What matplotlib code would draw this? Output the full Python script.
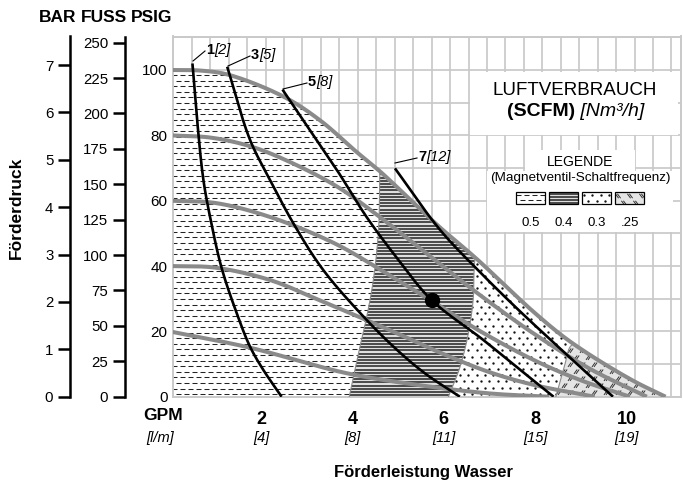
import numpy as np
import matplotlib
matplotlib.use('Agg')
import matplotlib.pyplot as plt
from matplotlib.patches import Polygon, Rectangle
from matplotlib.collections import LineCollection
from matplotlib.offsetbox import TextArea, HPacker, AnnotationBbox

FONT = ['Liberation Sans', 'DejaVu Sans']
plt.rcParams['font.family'] = FONT

# ---------------- data ----------------
# pump curves at air inlet pressure (psig): x = GPM, y = discharge psig
p100_x = [0, 0.7, 1.3, 2.5, 3.3, 4.1, 4.6, 5.9, 6.7, 8.0, 8.8, 10.1, 10.85]
p100_y = [100, 99.8, 98.5, 91.8, 84.5, 74.8, 69, 52, 42.4, 25.5, 16.5, 5.2, 0]
p80_x = [0, 0.9, 1.8, 2.7, 3.7, 4.6, 5.7, 6.8, 8.0, 9.2, 10.44]
p80_y = [80, 79.3, 76.5, 71.4, 64, 55, 43, 31, 19, 8.5, 0]
p60_x = [0, 1.0, 2.2, 3.6, 4.6, 5.7, 6.8, 8.0, 9.0, 10.07]
p60_y = [60, 59.3, 55, 47, 39, 29.6, 20, 11, 5, 0]
p40_x = [0, 1.0, 2.2, 3.2, 4.3, 5.04, 6.0, 7.0, 8.0, 9.3]
p40_y = [40, 39.5, 35.7, 30, 23.5, 19, 13, 7.5, 3.5, 0]
p20_x = [0, 1.76, 3.87, 5.48, 7.0, 8.3]
p20_y = [20, 15, 7.2, 3.5, 1, 0]

# air consumption lines (SCFM)
a1_x = [0.5, 0.6, 0.74, 0.9, 1.14, 1.47, 1.76, 2.05, 2.45]
a1_y = [102, 85, 66.3, 54, 39.3, 25.5, 15.3, 8.2, 0]
a3_x = [1.26, 1.76, 2.2, 2.71, 3.36, 4.31, 5.0, 5.6, 6.35]
a3_y = [101, 78.6, 66.3, 53, 38.8, 23.5, 14, 7, 0]
a5_x = [2.47, 3.07, 3.66, 4.31, 5.0, 5.73, 6.86, 7.6, 8.4]
a5_y = [94, 81.6, 69.4, 55, 42, 29.6, 17.4, 9, 0]
a7_x = [4.93, 5.92, 6.8, 7.6, 8.6, 9.7]
a7_y = [69.9, 51, 38, 27, 14, 0]
air_bold = ['1', '3', '5', '7']
air_ital = ['[2]', '[5]', '[8]', '[12]']

# solenoid frequency zone boundaries (x = GPM, y = psig)
b1_x = [3.93, 4.16, 4.32, 4.46, 4.57, 4.6]
b1_y = [0, 15, 25, 36, 51, 69]
b2_x = [6.1, 6.35, 6.53, 6.64, 6.66, 6.68]
b2_y = [0, 9, 19, 29.6, 38, 42.4]
b3_x = [8.45, 8.55, 8.65, 8.75, 8.83]
b3_y = [0, 5, 10, 15, 16.5]
legend_labels = ['0.5', '0.4', '0.3', '.25']

op_x, op_y = [5.73], [29.6]

gpm_ticks = [2, 4, 6, 8, 10]
lpm_labels = ['[4]', '[8]', '[11]', '[15]', '[19]']
psi_ticks = [0, 20, 40, 60, 80, 100]
bar_ticks = list(range(0, 8))
ft_ticks = list(range(0, 251, 25))

# ---------------- layout ----------------
W, H = 683, 482
X0PX, XS = 169.6, 45.71
Y0PX, YS = 396.7, 3.267
LEFT_PX, RIGHT_PX, TOP_PX = 173.3, 681.0, 36.5
GRID_C = '#c9c9c9'
CURVE_C = '#8a8a8a'


def smooth(xs, ys, n=30, kx=XS, ky=YS, alpha=0.5):
    pts = np.column_stack([np.asarray(xs, float) * kx, np.asarray(ys, float) * ky])
    P = np.vstack([2 * pts[0] - pts[1], pts, 2 * pts[-1] - pts[-2]])
    out = []
    for i in range(1, len(P) - 2):
        p0, p1, p2, p3 = P[i - 1], P[i], P[i + 1], P[i + 2]
        t0 = 0.0
        t1 = t0 + max(np.linalg.norm(p1 - p0), 1e-6) ** alpha
        t2 = t1 + max(np.linalg.norm(p2 - p1), 1e-6) ** alpha
        t3 = t2 + max(np.linalg.norm(p3 - p2), 1e-6) ** alpha
        t = np.linspace(t1, t2, n, endpoint=False)[:, None]
        A1 = (t1 - t) / (t1 - t0) * p0 + (t - t0) / (t1 - t0) * p1
        A2 = (t2 - t) / (t2 - t1) * p1 + (t - t1) / (t2 - t1) * p2
        A3 = (t3 - t) / (t3 - t2) * p2 + (t - t2) / (t3 - t2) * p3
        B1 = (t2 - t) / (t2 - t0) * A1 + (t - t0) / (t2 - t0) * A2
        B2 = (t3 - t) / (t3 - t1) * A2 + (t - t1) / (t3 - t1) * A3
        out.append((t2 - t) / (t2 - t1) * B1 + (t - t1) / (t2 - t1) * B2)
    out.append(pts[-1:])
    S = np.vstack(out)
    return np.column_stack([S[:, 0] / kx, S[:, 1] / ky])


fig = plt.figure(figsize=(W / 100, H / 100), dpi=100)
ax = fig.add_axes([LEFT_PX / W, 1 - Y0PX / H, (RIGHT_PX - LEFT_PX) / W, (Y0PX - TOP_PX) / H])
xmin, xmax = (LEFT_PX - X0PX) / XS, (RIGHT_PX - X0PX) / XS
ymax = (Y0PX - TOP_PX) / YS
ax.set_xlim(xmin, xmax)
ax.set_ylim(0, ymax)
for s in ax.spines.values():
    s.set_color(GRID_C)
    s.set_linewidth(1.4)

# grid
gx = np.arange(xmin, xmax, 18.45 / XS)
for v in gx[1:]:
    ax.axvline(v, color=GRID_C, lw=1.25, zorder=0)
for v in range(10, int(ymax) + 1, 10):
    ax.axhline(v, color=GRID_C, lw=1.25, zorder=0)

# ticks
ax.set_yticks(psi_ticks)
ax.set_yticklabels([str(v) for v in psi_ticks], fontsize=11)
ax.set_xticks(gpm_ticks)
ax.set_xticklabels([str(v) for v in gpm_ticks], fontsize=13, fontweight='bold')
ax.tick_params(axis='both', length=0)
ax.tick_params(axis='y', pad=4)
ax.tick_params(axis='x', pad=10)
for v, lab in zip(gpm_ticks, lpm_labels):
    ax.text(v, -(438 - Y0PX) / (Y0PX - TOP_PX), lab, transform=ax.get_xaxis_transform(),
            ha='center', va='center', fontsize=10.5, style='italic')

# ------------- zones -------------
C = smooth(p100_x, p100_y)


def ycurve(x):
    return np.interp(x, C[:, 0], C[:, 1])


def curve_between(xa, xb):
    m = (C[:, 0] > xa) & (C[:, 0] < xb)
    return C[m]


def boundary(bx, by):
    by = list(by)
    by[-1] = float(ycurve(bx[-1]))
    return smooth(bx, by, 16)


B1 = boundary(b1_x, b1_y)
B2 = boundary(b2_x, b2_y)
B3 = boundary(b3_x, b3_y)
xend = p100_x[-1]

P1 = np.vstack([[[xmin - 0.2, 0], [xmin - 0.2, 100]], curve_between(xmin - 0.3, b1_x[-1]), B1[::-1]])
P2 = np.vstack([B1, curve_between(b1_x[-1], b2_x[-1]), B2[::-1]])
P3 = np.vstack([B2, curve_between(b2_x[-1], b3_x[-1]), B3[::-1]])
P4 = np.vstack([B3, curve_between(b3_x[-1], xend), [[xend, 0]]])


def tex_dashes(axx, clip, x0, x1, y0, y1, sx, sy, lw=0.75):
    segs = []
    row = 0
    y = y0 + 2.5 * sy
    while y < y1:
        off = (row % 2) * 4 * sx
        x = x0 + off
        while x < x1:
            segs.append([(x, y), (x + 5 * sx, y)])
            x += 8 * sx
        y += 5.6 * sy
        row += 1
    lc = LineCollection(segs, colors='#222222', linewidths=lw, zorder=2)
    axx.add_collection(lc)
    lc.set_clip_path(clip)


def tex_hlines(axx, clip, x0, x1, y0, y1, sx, sy, lw=1.2):
    segs = []
    y = y0 + 1.5 * sy
    while y < y1:
        segs.append([(x0, y), (x1, y)])
        y += 3.2 * sy
    lc = LineCollection(segs, colors='#303030', linewidths=lw, zorder=2)
    axx.add_collection(lc)
    lc.set_clip_path(clip)


def tex_dots(axx, clip, x0, x1, y0, y1, sx, sy, ms=1.7):
    xs, ys = [], []
    row = 0
    y = y0 + 3 * sy
    while y < y1:
        x = x0 + 2 * sx + (row % 2) * 4.2 * sx
        while x < x1:
            xs.append(x)
            ys.append(y)
            x += 8.4 * sx
        y += 6.2 * sy
        row += 1
    ln, = axx.plot(xs, ys, ls='none', marker='o', ms=ms, mfc='#111111', mec='none', zorder=2)
    ln.set_clip_path(clip)


def tex_marks(axx, clip, x0, x1, y0, y1, sx, sy, lw=0.7):
    segs = []
    row = 0
    y = y0 + 4 * sy
    dx, dy = 1.6, 2.2
    while y < y1:
        x = x0 + 3 * sx + (row % 2) * 6 * sx
        while x < x1:
            for o in (-1.0, 1.0):
                segs.append([(x - dx * sx + o * sx, y - dy * sy),
                             (x + dx * sx + o * sx, y + dy * sy)])
            x += 12 * sx
        y += 7 * sy
        row += 1
    lc = LineCollection(segs, colors='#333333', linewidths=lw, zorder=2)
    axx.add_collection(lc)
    lc.set_clip_path(clip)


sx, sy = 1 / XS, 1 / YS
zones = [(P1, 'white', tex_dashes), (P2, '#dedede', tex_hlines),
         (P3, 'white', tex_dots), (P4, '#e4e4e4', tex_marks)]
for P, fc, tex in zones:
    patch = Polygon(P, closed=True, facecolor=fc, edgecolor='none', zorder=1)
    ax.add_patch(patch)
    tex(ax, patch, xmin - 0.3, xmax, 0, ymax, sx, sy)
for B in (B1, B2, B3):
    ax.plot(B[:, 0], B[:, 1], color='#8c8c8c', lw=0.8, zorder=3)

# pump curves
for px_, py_ in [(p20_x, p20_y), (p40_x, p40_y), (p60_x, p60_y), (p80_x, p80_y), (p100_x, p100_y)]:
    S = smooth(px_, py_)
    ax.plot(S[:, 0], S[:, 1], color=CURVE_C, lw=2.9, zorder=4, solid_capstyle='butt')

# air lines
for axx_, ayy_ in [(a1_x, a1_y), (a3_x, a3_y), (a5_x, a5_y), (a7_x, a7_y)]:
    S = smooth(axx_, ayy_)
    ax.plot(S[:, 0], S[:, 1], color='black', lw=1.9, zorder=5, solid_capstyle='butt')

ax.plot(op_x, op_y, 'o', color='black', ms=10, zorder=6)

# ---------------- left pressure scales ----------------
yb = 1 - Y0PX / H
hh = (Y0PX - TOP_PX) / H
for xpx, conv, ticks in [(70, 1 / 14.5038, bar_ticks), (125, 2.3067, ft_ticks)]:
    a2 = fig.add_axes([xpx / W, yb, 0.0005, hh])
    a2.set_ylim(0, ymax * conv)
    a2.set_xticks([])
    for k in ('top', 'right', 'bottom'):
        a2.spines[k].set_visible(False)
    a2.spines['left'].set_linewidth(1.8)
    a2.patch.set_alpha(0)
    a2.set_yticks(ticks)
    a2.set_yticklabels([str(t) for t in ticks], fontsize=10.8)
    a2.tick_params(axis='y', length=9, width=1.8, pad=3)

# ---------------- overlay (pixel coordinates) ----------------
ov = fig.add_axes([0, 0, 1, 1], zorder=10)
ov.set_xlim(0, W)
ov.set_ylim(H, 0)
ov.axis('off')
ov.patch.set_alpha(0)

for x, t in [(58, 'BAR'), (104, 'FUSS'), (152, 'PSIG')]:
    ov.text(x, 17, t, ha='center', va='center', fontsize=12.5, fontweight='bold')
ov.text(16, 208, 'Förderdruck', rotation=90, ha='center', va='center', fontsize=12.5, fontweight='bold')
ov.text(423, 472, 'Förderleistung Wasser', ha='center', va='center', fontsize=12, fontweight='bold')
ov.text(163, 416, 'GPM', ha='center', va='center', fontsize=12.5, fontweight='bold')
ov.text(160, 438, '[l/m]', ha='center', va='center', fontsize=10.5, style='italic')

# white boxes
ov.add_patch(Rectangle((470, 72), 208, 63, facecolor='white', edgecolor='none', zorder=1))
ov.add_patch(Rectangle((525, 150), 110, 24, facecolor='white', edgecolor='none', zorder=1))
ov.add_patch(Rectangle((487, 171), 186, 61, facecolor='white', edgecolor='none', zorder=1))

ov.text(575, 90.5, 'LUFTVERBRAUCH', ha='center', va='center', fontsize=13.5)


def mixed(x, y, parts, align=(0.5, 0.5)):
    kids = [TextArea(t, textprops=dict(fontsize=fs, fontweight=fw, style=st, family=FONT))
            for t, fs, fw, st in parts]
    box = HPacker(children=kids, align='baseline', pad=0, sep=0)
    ab = AnnotationBbox(box, (x, y), xycoords='data', frameon=False, box_alignment=align, pad=0)
    ov.add_artist(ab)


mixed(576, 112, [('(SCFM)', 14, 'bold', 'normal'), (' [Nm³/h]', 14, 'normal', 'italic')])
ov.text(580, 162.5, 'LEGENDE', ha='center', va='center', fontsize=10)
ov.text(580, 178, '(Magnetventil-Schaltfrequenz)', ha='center', va='center', fontsize=9.7)

# legend swatches
sw_x = [516, 549, 582, 615]
for (P, fc, tex), x, lab in zip(zones, sw_x, legend_labels):
    r = Rectangle((x, 192), 29, 12, facecolor=fc, edgecolor='none', zorder=2)
    ov.add_patch(r)
    tex(ov, r, x, x + 29, 192, 204, 1, 1)
    ov.add_patch(Rectangle((x, 192), 29, 12, facecolor='none', edgecolor='black', lw=0.9, zorder=4))
    ov.text(x + 14.5, 223, lab, ha='center', va='center', fontsize=9.5)

# air line labels with leaders
lead = [((193, 61), (205, 51)), ((228, 66), (250, 56)), ((283, 89), (307, 83)), ((395, 163), (417, 158))]
for (bold, ital), (p0, p1) in zip(zip(air_bold, air_ital), lead):
    ov.plot([p0[0], p1[0]], [p0[1], p1[1]], color='black', lw=0.8)
    mixed(p1[0] + 1, p1[1] - 1, [(bold, 10.5, 'bold', 'normal'), (ital, 10.5, 'normal', 'italic')], align=(0, 0.5))

fig.savefig('out.png', dpi=100)
